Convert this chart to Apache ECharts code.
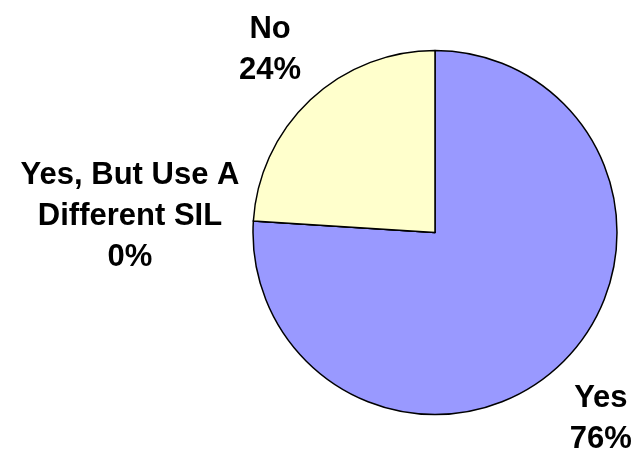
<!DOCTYPE html>
<html>
<head>
<meta charset="utf-8">
<script src="https://cdn.jsdelivr.net/npm/echarts@6/dist/echarts.min.js"></script>
<style>html,body{margin:0;padding:0;background:#fff;}#c{width:637px;height:458px;}</style>
</head>
<body>
<div id="c"></div>
<script>
var categories = ['Yes', 'Yes, But Use A Different SIL', 'No'];
var values = [76, 0, 24];
var colors = ['#9999FF', '#FFFFCC', '#FFFFCC'];

var CX = 435, CY = 232.5, R = 182, GAP = 15;
var FONT = 'bold 31px "Liberation Sans", Arial, sans-serif';
var MAX_W = 226;
var total = values.reduce(function (a, b) { return a + b; }, 0);

var ctx = document.createElement('canvas').getContext('2d');
ctx.font = FONT;
function wrap(text) {
  var words = text.split(' '), lines = [], cur = '';
  words.forEach(function (w) {
    var t = cur ? cur + ' ' + w : w;
    if (cur && ctx.measureText(t).width > MAX_W) { lines.push(cur); cur = w; }
    else cur = t;
  });
  if (cur) lines.push(cur);
  return lines.join('\n');
}

function midAngle(i) {
  var before = 0;
  for (var k = 0; k < i; k++) before += values[k];
  return (before + values[i] / 2) / total * Math.PI * 2;
}

var data = categories.map(function (name, i) {
  return { name: name, value: values[i], itemStyle: { color: colors[i] } };
});

var chart = echarts.init(document.getElementById('c'), null, { renderer: 'canvas' });
chart.setOption({
  animation: false,
  series: [{
    type: 'pie',
    center: [CX, CY],
    radius: R,
    startAngle: 90,
    clockwise: true,
    avoidLabelOverlap: false,
    data: data,
    itemStyle: { borderColor: '#000', borderWidth: 1.5 },
    emphasis: { disabled: true },
    labelLine: { show: false },
    label: {
      show: true,
      position: 'outside',
      color: '#000',
      fontFamily: '"Liberation Sans", Arial, sans-serif',
      fontWeight: 'bold',
      fontSize: 31,
      lineHeight: 41,
      align: 'center',
      formatter: function (p) { return wrap(p.name) + '\n' + Math.round(p.percent) + '%'; }
    },
    labelLayout: function (p) {
      var a = midAngle(p.dataIndex);
      var dx = Math.sin(a), dy = -Math.cos(a);
      var ax = CX + (R + GAP) * dx, ay = CY + (R + GAP) * dy;
      var w = p.labelRect.width, h = p.labelRect.height;
      var oy = Math.max(-1, Math.min(1, 1.5 * dy)) * h / 2;
      return {
        x: ax + (dx < 0 ? -1 : 1) * w / 2 + (dx < 0 ? 1 : 0),
        y: ay + oy + 2,
        align: 'center',
        verticalAlign: 'middle'
      };
    }
  }]
});
</script>
</body>
</html>
